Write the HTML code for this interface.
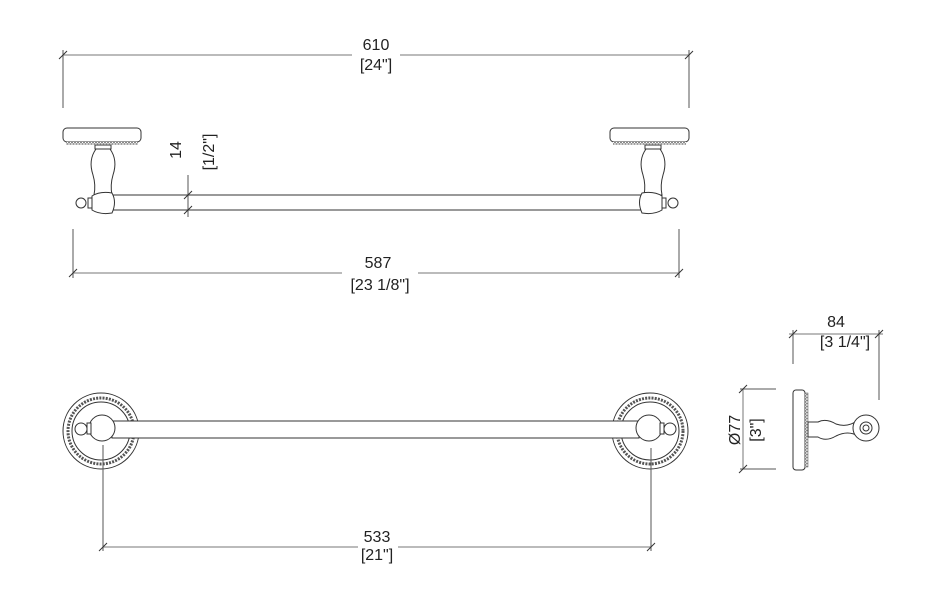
<!DOCTYPE html>
<html><head><meta charset="utf-8"><style>
html,body{margin:0;padding:0;background:#fff;}
svg{display:block;}
text{font-family:"Liberation Sans",sans-serif;font-size:16px;fill:#222;}
</style></head><body>
<svg width="930" height="602" viewBox="0 0 930 602" xmlns="http://www.w3.org/2000/svg">
<defs>
<pattern id="bead" width="3" height="3" patternUnits="userSpaceOnUse"><rect width="3" height="3" fill="#fff"/><circle cx="1.5" cy="1.5" r="1" fill="none" stroke="#444" stroke-width="0.6"/></pattern>
</defs>
<g stroke="#333" stroke-width="1" fill="none">
<line x1="63" y1="50" x2="63" y2="108" stroke="#555"/>
<line x1="689" y1="50" x2="689" y2="108" stroke="#555"/>
<line x1="63" y1="55" x2="352" y2="55" stroke="#777"/>
<line x1="400" y1="55" x2="689" y2="55" stroke="#777"/>
<line x1="59" y1="59" x2="67" y2="51"/><line x1="685" y1="59" x2="693" y2="51"/>

<g fill="#fff">
<rect x="63" y="128" width="78" height="14" rx="4"/>
<rect x="66" y="142" width="72" height="3" fill="url(#bead)" stroke="none"/>
<rect x="95" y="145" width="16" height="4"/>
<path d="M96 149 L110 149 Q118 160 113 175 Q110 185 112 195 L94 195 Q96 185 93 175 Q88 160 96 149 Z"/>
<rect x="610" y="128" width="79" height="14" rx="4"/>
<rect x="613" y="142" width="73" height="3" fill="url(#bead)" stroke="none"/>
<rect x="645" y="145" width="16" height="4"/>
<path d="M646 149 L660 149 Q668 160 663 175 Q660 185 662 195 L644 195 Q646 185 643 175 Q638 160 646 149 Z"/>
<rect x="110" y="195" width="535" height="15"/>
<path d="M92 196 Q100 191 112 193 Q117 202 112 213 Q100 215 92 210 Z"/>
<rect x="88" y="198" width="4" height="10"/>
<circle cx="81" cy="203" r="5"/>
<path d="M642 193 Q654 191 662 196 L662 210 Q654 215 642 213 Q637 202 642 193 Z"/>
<rect x="662" y="198" width="4" height="10"/>
<circle cx="673" cy="203" r="5"/>
</g>
<line x1="188" y1="175" x2="188" y2="217" stroke="#555"/>
<line x1="184" y1="199" x2="192" y2="191"/><line x1="184" y1="214" x2="192" y2="206"/>

<line x1="73" y1="229" x2="73" y2="278" stroke="#555"/>
<line x1="679" y1="229" x2="679" y2="278" stroke="#555"/>
<line x1="73" y1="273" x2="342" y2="273" stroke="#777"/>
<line x1="418" y1="273" x2="679" y2="273" stroke="#777"/>
<line x1="69" y1="277" x2="77" y2="269"/><line x1="675" y1="277" x2="683" y2="269"/>

<g fill="#fff">
<circle cx="101" cy="431" r="38"/>
<circle cx="101" cy="431" r="33" stroke="#555" stroke-width="3" stroke-dasharray="2 1.2"/>
<circle cx="101" cy="431" r="29"/>
<circle cx="650" cy="431" r="38"/>
<circle cx="650" cy="431" r="33" stroke="#555" stroke-width="3" stroke-dasharray="2 1.2"/>
<circle cx="650" cy="431" r="29"/>
<rect x="112" y="421" width="527" height="17"/>
<circle cx="102" cy="428" r="13"/>
<rect x="87" y="423" width="4" height="11"/>
<circle cx="81" cy="429" r="6"/>
<circle cx="649" cy="428" r="13"/>
<rect x="660" y="423" width="4" height="11"/>
<circle cx="670" cy="429" r="6"/>
</g>
<line x1="103" y1="445" x2="103" y2="551" stroke="#555"/>
<line x1="651" y1="448" x2="651" y2="551" stroke="#555"/>
<line x1="103" y1="547" x2="358" y2="547" stroke="#777"/>
<line x1="398" y1="547" x2="651" y2="547" stroke="#777"/>
<line x1="99" y1="551" x2="107" y2="543"/><line x1="647" y1="551" x2="655" y2="543"/>

<g fill="#fff">
<rect x="793" y="390" width="12" height="80" rx="3"/>
<rect x="805" y="393" width="3" height="74" fill="url(#bead)" stroke="#555" stroke-width="0.5"/>
<path d="M808 422 L818 422 Q826 418 836 424 Q848 428 858 420 L858 436 Q848 430 836 436 Q826 442 818 437 L808 437 Z"/>
<circle cx="866" cy="428" r="13"/>
<circle cx="866" cy="428" r="6"/>
<circle cx="866" cy="428" r="3"/>
</g>
<line x1="740" y1="389" x2="776" y2="389" stroke="#555"/>
<line x1="740" y1="469" x2="776" y2="469" stroke="#555"/>
<line x1="743" y1="389" x2="743" y2="469" stroke="#777"/>
<line x1="739" y1="393" x2="747" y2="385"/><line x1="739" y1="473" x2="747" y2="465"/>
<line x1="793" y1="330" x2="793" y2="364" stroke="#555"/>
<line x1="879" y1="330" x2="879" y2="400" stroke="#555"/>
<line x1="789" y1="334" x2="883" y2="334" stroke="#777"/>
<line x1="789" y1="338" x2="797" y2="330"/><line x1="875" y1="338" x2="883" y2="330"/>
</g>
<g text-anchor="middle">
<text x="376" y="50">610</text>
<text x="376" y="70">[24"]</text>
<text x="378" y="268">587</text>
<text x="380" y="290">[23 1/8"]</text>
<text x="377" y="542">533</text>
<text x="377" y="560">[21"]</text>
<text x="836" y="327">84</text>
<text x="845" y="347">[3 1/4"]</text>
<text transform="translate(181,150) rotate(-90)">14</text>
<text transform="translate(214,152) rotate(-90)">[1/2"]</text>
<text transform="translate(740,430) rotate(-90)">Ø77</text>
<text transform="translate(761,430) rotate(-90)">[3"]</text>
</g>
</svg>
</body></html>
